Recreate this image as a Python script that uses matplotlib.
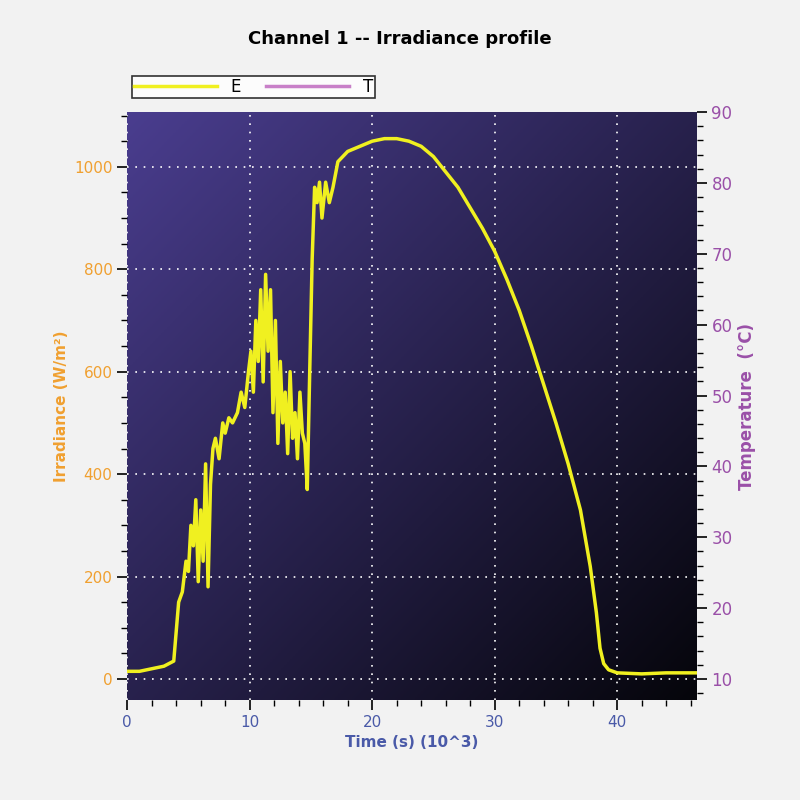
import numpy as np
import matplotlib.pyplot as plt
from matplotlib.ticker import MultipleLocator
from matplotlib.lines import Line2D

# irradiance channel E (time in 10^3 s, W/m2)
e_time = [0, 1, 2, 3, 3.8, 4.2, 4.5, 4.8, 5.0, 5.2, 5.4, 5.6, 5.8, 6.0, 6.2, 6.4, 6.6, 6.8,
          7.0, 7.2, 7.5, 7.8, 8.0, 8.3, 8.6, 9.0, 9.3, 9.6, 9.9, 10.1, 10.3, 10.5, 10.7,
          10.9, 11.1, 11.3, 11.5, 11.7, 11.9, 12.1, 12.3, 12.5, 12.7, 12.9, 13.1, 13.3,
          13.5, 13.7, 13.9, 14.1, 14.3, 14.5, 14.7, 14.9, 15.1, 15.3, 15.5, 15.7, 15.9,
          16.2, 16.5, 16.8, 17.2, 18, 19, 20, 21, 22, 23, 24, 25, 26, 27, 28, 29, 30,
          31, 32, 33, 34, 35, 36, 37, 37.8, 38.3, 38.6, 38.9, 39.3, 40, 42, 44, 46.5]
e_vals = [15, 15, 20, 25, 35, 150, 170, 230, 210, 300, 260, 350, 190, 330, 230, 420, 180,
          380, 450, 470, 430, 500, 480, 510, 500, 520, 560, 530, 600, 640, 560, 700, 620,
          760, 580, 790, 640, 760, 520, 700, 460, 620, 500, 560, 440, 600, 470, 520, 430,
          560, 480, 460, 370, 600, 820, 960, 930, 970, 900, 970, 930, 960, 1010, 1030,
          1040, 1050, 1055, 1055, 1050, 1040, 1020, 990, 960, 920, 880, 835, 780, 720,
          650, 575, 500, 420, 330, 220, 130, 60, 30, 18, 12, 10, 12, 12]

# temperature channel T (deg C)
t_time = [0, 2, 3.5, 4.3, 5, 6, 7, 8, 9, 10, 11, 12, 13, 14, 14.8, 15.2, 15.6, 16, 16.5,
          17, 18, 19, 20, 21, 22, 23, 24, 25, 26, 27, 28, 29, 30, 31, 32, 33, 34, 35, 36,
          37, 37.8, 38.3, 38.7, 39.2, 40, 41, 43, 46.5]
t_vals = [19, 19, 19.5, 21, 26, 33, 40, 45, 47, 50, 53, 55, 52, 49, 48, 58, 68, 72, 71,
          74, 76, 77, 78, 78.5, 78.8, 78.3, 77, 75.5, 74, 72, 70, 67, 63.5, 60, 56, 52,
          48, 44, 39, 33, 25, 20, 19.5, 18.8, 18.4, 18.5, 18.8, 18.8]

fig = plt.figure(figsize=(8, 8), dpi=100, facecolor='#f2f2f2')
ax = fig.add_axes([0.159, 0.125, 0.712, 0.735])

# gradient background
gx, gy = np.meshgrid(np.linspace(0, 1, 200), np.linspace(1, 0, 200))
g = np.clip((gx + (1 - gy)) / 2, 0, 1)[..., None]
top = np.array([0.29, 0.24, 0.56])
bot = np.array([0.02, 0.02, 0.04])
img = top * (1 - g) + bot * g
ax.imshow(img, extent=[0, 46.5, -41, 1107], aspect='auto', zorder=0)

ax.set_xlim(0, 46.5)
ax.set_ylim(-41, 1107)
ax2 = ax.twinx()
ax2.set_ylim(7.04, 90)

ax.xaxis.set_major_locator(MultipleLocator(10))
ax.xaxis.set_minor_locator(MultipleLocator(2))
ax.yaxis.set_major_locator(MultipleLocator(200))
ax.yaxis.set_minor_locator(MultipleLocator(50))
ax2.yaxis.set_major_locator(MultipleLocator(10))
ax2.yaxis.set_minor_locator(MultipleLocator(2))

for a in (ax, ax2):
    a.grid(True, which='major', color='white', linestyle=(0, (1, 4)), linewidth=1.2)
    a.tick_params(which='major', length=7, width=1.2, direction='out')
    a.tick_params(which='minor', length=4, width=1)
    for s in a.spines.values():
        s.set_visible(False)

ax.tick_params(axis='x', colors='black', labelcolor='#4a5aa8', labelsize=11)
ax.tick_params(axis='y', colors='black', labelcolor='#f0a030', labelsize=11)
ax2.tick_params(axis='y', colors='black', labelcolor='#9a50a8', labelsize=12)

ax2.plot(t_time, t_vals, color='#c880c8', linewidth=2.5, zorder=3)
ax.plot(e_time, e_vals, color='#f0f020', linewidth=2.5, zorder=4)
ax.set_zorder(ax2.get_zorder() + 1)
ax.patch.set_visible(False)
ax.set_axisbelow(False)

ax.set_xlabel('Time (s) (10^3)', color='#4a5aa8', fontsize=11, fontweight='bold')
ax.set_ylabel('Irradiance (W/m²)', color='#f0a030', fontsize=11, fontweight='bold')
ax2.set_ylabel('Temperature  (°C)', color='#9a50a8', fontsize=12, fontweight='bold')
fig.text(0.5, 0.945, 'Channel 1 -- Irradiance profile', ha='center', fontsize=13,
         fontweight='bold')

handles = [Line2D([], [], color='#f0f020', lw=2.5), Line2D([], [], color='#c880c8', lw=2.5)]
leg = fig.legend(handles, ['E', 'T'], loc='upper left', bbox_to_anchor=(0.155, 0.915),
                 ncol=2, frameon=True, fancybox=False, edgecolor='black', fontsize=12,
                 handlelength=5, columnspacing=1.5, borderpad=0.1)
leg.get_frame().set_linewidth(1.2)

fig.savefig('out.png', facecolor=fig.get_facecolor())
